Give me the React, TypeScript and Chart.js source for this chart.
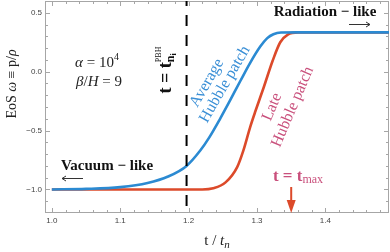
import React, { useEffect, useRef } from "react";
import { Chart, registerables } from "chart.js";

Chart.register(...registerables);

// ---- data ----
const avgT = [1.0, 1.05, 1.1, 1.14, 1.17, 1.197, 1.217, 1.23, 1.246, 1.261, 1.276, 1.29, 1.305, 1.315, 1.324, 1.335, 1.36, 1.493];
const avgW = [-1.0, -0.995, -0.98, -0.945, -0.89, -0.8, -0.67, -0.56, -0.4, -0.24, -0.075, 0.075, 0.215, 0.285, 0.318, 0.332, 0.3333, 0.3333];
const lateT = [1.0, 1.22, 1.236, 1.254, 1.271, 1.28, 1.29, 1.298, 1.31, 1.323, 1.334, 1.345, 1.36, 1.493];
const lateW = [-1.0, -1.0, -0.99, -0.94, -0.81, -0.67, -0.47, -0.33, -0.13, 0.095, 0.25, 0.315, 0.333, 0.3333];
const xTicks = [1.0, 1.1, 1.2, 1.3, 1.4];
const yTicks = [0.5, 0.0, -0.5, -1.0];
const xTickLabels = ["1.0", "1.1", "1.2", "1.3", "1.4"];
const yTickLabels = ["0.5", "0.0", "\u22120.5", "\u22121.0"];
const tPBH = 1.197;
const tMax = 1.35;

const BLUE = "#2b8ad2";
const BLUE_TXT = "#3a8fd6";
const RED = "#dc4a2a";
const PINK = "#c9507c";
const SERIF = "'Liberation Serif', serif";

type Part = { t: string; f: string; dy?: number };
function rich(ctx: CanvasRenderingContext2D, parts: Part[], x: number, y: number, align: "center" | "left" = "center") {
  let w = 0;
  for (const p of parts) {
    ctx.font = p.f;
    w += ctx.measureText(p.t).width;
  }
  let cx = align === "center" ? x - w / 2 : x;
  ctx.textAlign = "left";
  ctx.textBaseline = "alphabetic";
  for (const p of parts) {
    ctx.font = p.f;
    ctx.fillText(p.t, cx, y + (p.dy || 0));
    cx += ctx.measureText(p.t).width;
  }
}

function rotText(ctx: CanvasRenderingContext2D, text: string, font: string, x: number, y: number, deg: number) {
  ctx.save();
  ctx.translate(x, y);
  ctx.rotate((deg * Math.PI) / 180);
  ctx.font = font;
  ctx.textAlign = "center";
  ctx.textBaseline = "alphabetic";
  ctx.fillText(text, 0, 0);
  ctx.restore();
}

const framePlugin = {
  id: "frame",
  beforeDatasetsDraw(chart: any) {
    const ctx: CanvasRenderingContext2D = chart.ctx;
    const { left, right, top, bottom } = chart.chartArea;
    const xs = chart.scales.x;
    const ys = chart.scales.y;
    ctx.save();
    ctx.strokeStyle = "#a6a6a6";
    ctx.lineWidth = 1;
    ctx.strokeRect(left + 0.5, top + 0.5, right - left - 1, bottom - top - 1);
    ctx.beginPath();
    for (let k = 0; k <= 25; k++) {
      const v = 1.0 + k * 0.02;
      const px = Math.round(xs.getPixelForValue(v)) + 0.5;
      if (px < left || px > right) continue;
      const len = k % 5 === 0 ? 5 : 3;
      ctx.moveTo(px, bottom);
      ctx.lineTo(px, bottom - len);
      ctx.moveTo(px, top);
      ctx.lineTo(px, top + len);
    }
    for (let k = 0; k <= 18; k++) {
      const v = -1.2 + k * 0.1;
      const py = Math.round(ys.getPixelForValue(v)) + 0.5;
      if (py < top || py > bottom) continue;
      const major = Math.abs(v * 2 - Math.round(v * 2)) < 1e-6;
      const len = major ? 5 : 3;
      ctx.moveTo(left, py);
      ctx.lineTo(left + len, py);
      ctx.moveTo(right, py);
      ctx.lineTo(right - len, py);
    }
    ctx.stroke();
    ctx.fillStyle = "#444";
    ctx.font = "8px 'Liberation Sans', sans-serif";
    ctx.textAlign = "center";
    ctx.textBaseline = "alphabetic";
    xTicks.forEach((v, i) => ctx.fillText(xTickLabels[i], xs.getPixelForValue(v), bottom + 10));
    ctx.textAlign = "right";
    ctx.textBaseline = "middle";
    yTicks.forEach((v, i) => ctx.fillText(yTickLabels[i], left - 3, ys.getPixelForValue(v)));
    ctx.fillStyle = "#222";
    rich(ctx, [
      { t: "t / ", f: `15px ${SERIF}` },
      { t: "t", f: `italic 15px ${SERIF}` },
      { t: "n", f: `italic 11px ${SERIF}`, dy: 3 },
    ], (left + right) / 2, bottom + 32);
    ctx.save();
    ctx.translate(16, 84);
    ctx.rotate(-Math.PI / 2);
    rich(ctx, [
      { t: "EoS ", f: `14px ${SERIF}` },
      { t: "\u03c9", f: `italic 14px ${SERIF}` },
      { t: " \u2261 p/", f: `14px ${SERIF}` },
      { t: "\u03c1", f: `italic 14px ${SERIF}` },
    ], 0, 0);
    ctx.restore();
    ctx.restore();
  },
  afterDatasetsDraw(chart: any) {
    const ctx: CanvasRenderingContext2D = chart.ctx;
    const { top, bottom } = chart.chartArea;
    const xs = chart.scales.x;
    const ys = chart.scales.y;
    ctx.save();
    const xd = xs.getPixelForValue(tPBH);
    ctx.strokeStyle = "#000";
    ctx.lineWidth = 2;
    ctx.setLineDash([11, 9]);
    ctx.lineDashOffset = 6;
    ctx.beginPath();
    ctx.moveTo(xd, top);
    ctx.lineTo(xd, bottom);
    ctx.stroke();
    ctx.setLineDash([]);

    ctx.fillStyle = "#222";
    rich(ctx, [
      { t: "\u03b1", f: `italic 15px ${SERIF}` },
      { t: " = 10", f: `15px ${SERIF}` },
      { t: "4", f: `10px ${SERIF}`, dy: -7 },
    ], 97, 67);
    rich(ctx, [
      { t: "\u03b2", f: `italic 15px ${SERIF}` },
      { t: "/", f: `15px ${SERIF}` },
      { t: "H", f: `italic 15px ${SERIF}` },
      { t: " = 9", f: `15px ${SERIF}` },
    ], 99, 86);

    // t = t_{n_i}^{PBH} rotated
    ctx.save();
    ctx.translate(171, 70);
    ctx.rotate(-Math.PI / 2);
    ctx.fillStyle = "#111";
    ctx.textBaseline = "alphabetic";
    ctx.textAlign = "left";
    const mainF = `bold 18px ${SERIF}`;
    ctx.font = mainF;
    const wMain = ctx.measureText("t = t").width;
    ctx.font = `bold 12px ${SERIF}`;
    const wn = ctx.measureText("n").width;
    ctx.font = `8px ${SERIF}`;
    const wp = ctx.measureText("PBH").width;
    const total = wMain + Math.max(wn + 3, wp);
    let sx = -total / 2;
    ctx.font = mainF;
    ctx.fillText("t = t", sx, 0);
    sx += wMain;
    ctx.font = `bold 12px ${SERIF}`;
    ctx.fillText("n", sx, 3);
    ctx.font = `bold 8px ${SERIF}`;
    ctx.fillText("i", sx + wn, 5);
    ctx.font = `8px ${SERIF}`;
    ctx.fillText("PBH", sx, -10);
    ctx.restore();

    ctx.fillStyle = BLUE_TXT;
    rotText(ctx, "Average", `16px ${SERIF}`, 210.5, 85, -60);
    rotText(ctx, "Hubble patch", `16px ${SERIF}`, 228.5, 86.5, -60);
    ctx.fillStyle = PINK;
    rotText(ctx, "Late", `16px ${SERIF}`, 276, 108.6, -67);
    rotText(ctx, "Hubble patch", `16px ${SERIF}`, 296.6, 108.6, -67);

    ctx.fillStyle = "#111";
    rich(ctx, [{ t: "Radiation \u2212 like", f: `bold 15px ${SERIF}` }], 325, 16);
    rich(ctx, [{ t: "Vacuum \u2212 like", f: `bold 15px ${SERIF}` }], 107, 170);
    ctx.strokeStyle = "#333";
    ctx.lineWidth = 1;
    ctx.beginPath();
    ctx.moveTo(349, 24.5);
    ctx.lineTo(370, 24.5);
    ctx.moveTo(366, 22);
    ctx.lineTo(370, 24.5);
    ctx.lineTo(366, 27);
    ctx.moveTo(62, 178.5);
    ctx.lineTo(83, 178.5);
    ctx.moveTo(66, 176);
    ctx.lineTo(62, 178.5);
    ctx.lineTo(66, 181);
    ctx.stroke();

    ctx.fillStyle = PINK;
    rich(ctx, [
      { t: "t = t", f: `bold 17px ${SERIF}` },
      { t: "max", f: `12px ${SERIF}`, dy: 2 },
    ], 298, 181);
    const xa = xs.getPixelForValue(tMax);
    const yb = ys.getPixelForValue(-1.2);
    ctx.strokeStyle = RED;
    ctx.fillStyle = RED;
    ctx.lineWidth = 2;
    ctx.beginPath();
    ctx.moveTo(xa, 187);
    ctx.lineTo(xa, yb - 10);
    ctx.stroke();
    ctx.beginPath();
    ctx.moveTo(xa - 4.5, yb - 13);
    ctx.lineTo(xa + 4.5, yb - 13);
    ctx.lineTo(xa, yb);
    ctx.closePath();
    ctx.fill();
    ctx.restore();
  },
};

export default function App() {
  const ref = useRef<HTMLCanvasElement | null>(null);
  useEffect(() => {
    document.body.style.margin = "0";
    const canvas = ref.current!;
    const chart = new Chart(canvas, {
      type: "line",
      data: {
        datasets: [
          {
            label: "Average Hubble patch",
            data: avgT.map((t, i) => ({ x: t, y: avgW[i] })),
            borderColor: BLUE,
            borderWidth: 2.6,
            pointRadius: 0,
            cubicInterpolationMode: "monotone",
            fill: false,
          },
          {
            label: "Late Hubble patch",
            data: lateT.map((t, i) => ({ x: t, y: lateW[i] })),
            borderColor: RED,
            borderWidth: 2.6,
            pointRadius: 0,
            cubicInterpolationMode: "monotone",
            fill: false,
          },
        ],
      },
      options: {
        responsive: false,
        animation: false,
        layout: { padding: { left: 45, right: 1, top: 1, bottom: 39 } },
        plugins: { legend: { display: false }, tooltip: { enabled: false } },
        scales: {
          x: { type: "linear", min: 0.99, max: 1.493, display: false },
          y: { type: "linear", min: -1.2, max: 0.6, display: false },
        },
      },
      plugins: [framePlugin],
    });
    return () => chart.destroy();
  }, []);
  return (
    <div style={{ position: "absolute", left: 0, top: 0, width: 390, height: 252 }}>
      <canvas ref={ref} width={390} height={252} style={{ width: 390, height: 252, display: "block" }} />
    </div>
  );
}
